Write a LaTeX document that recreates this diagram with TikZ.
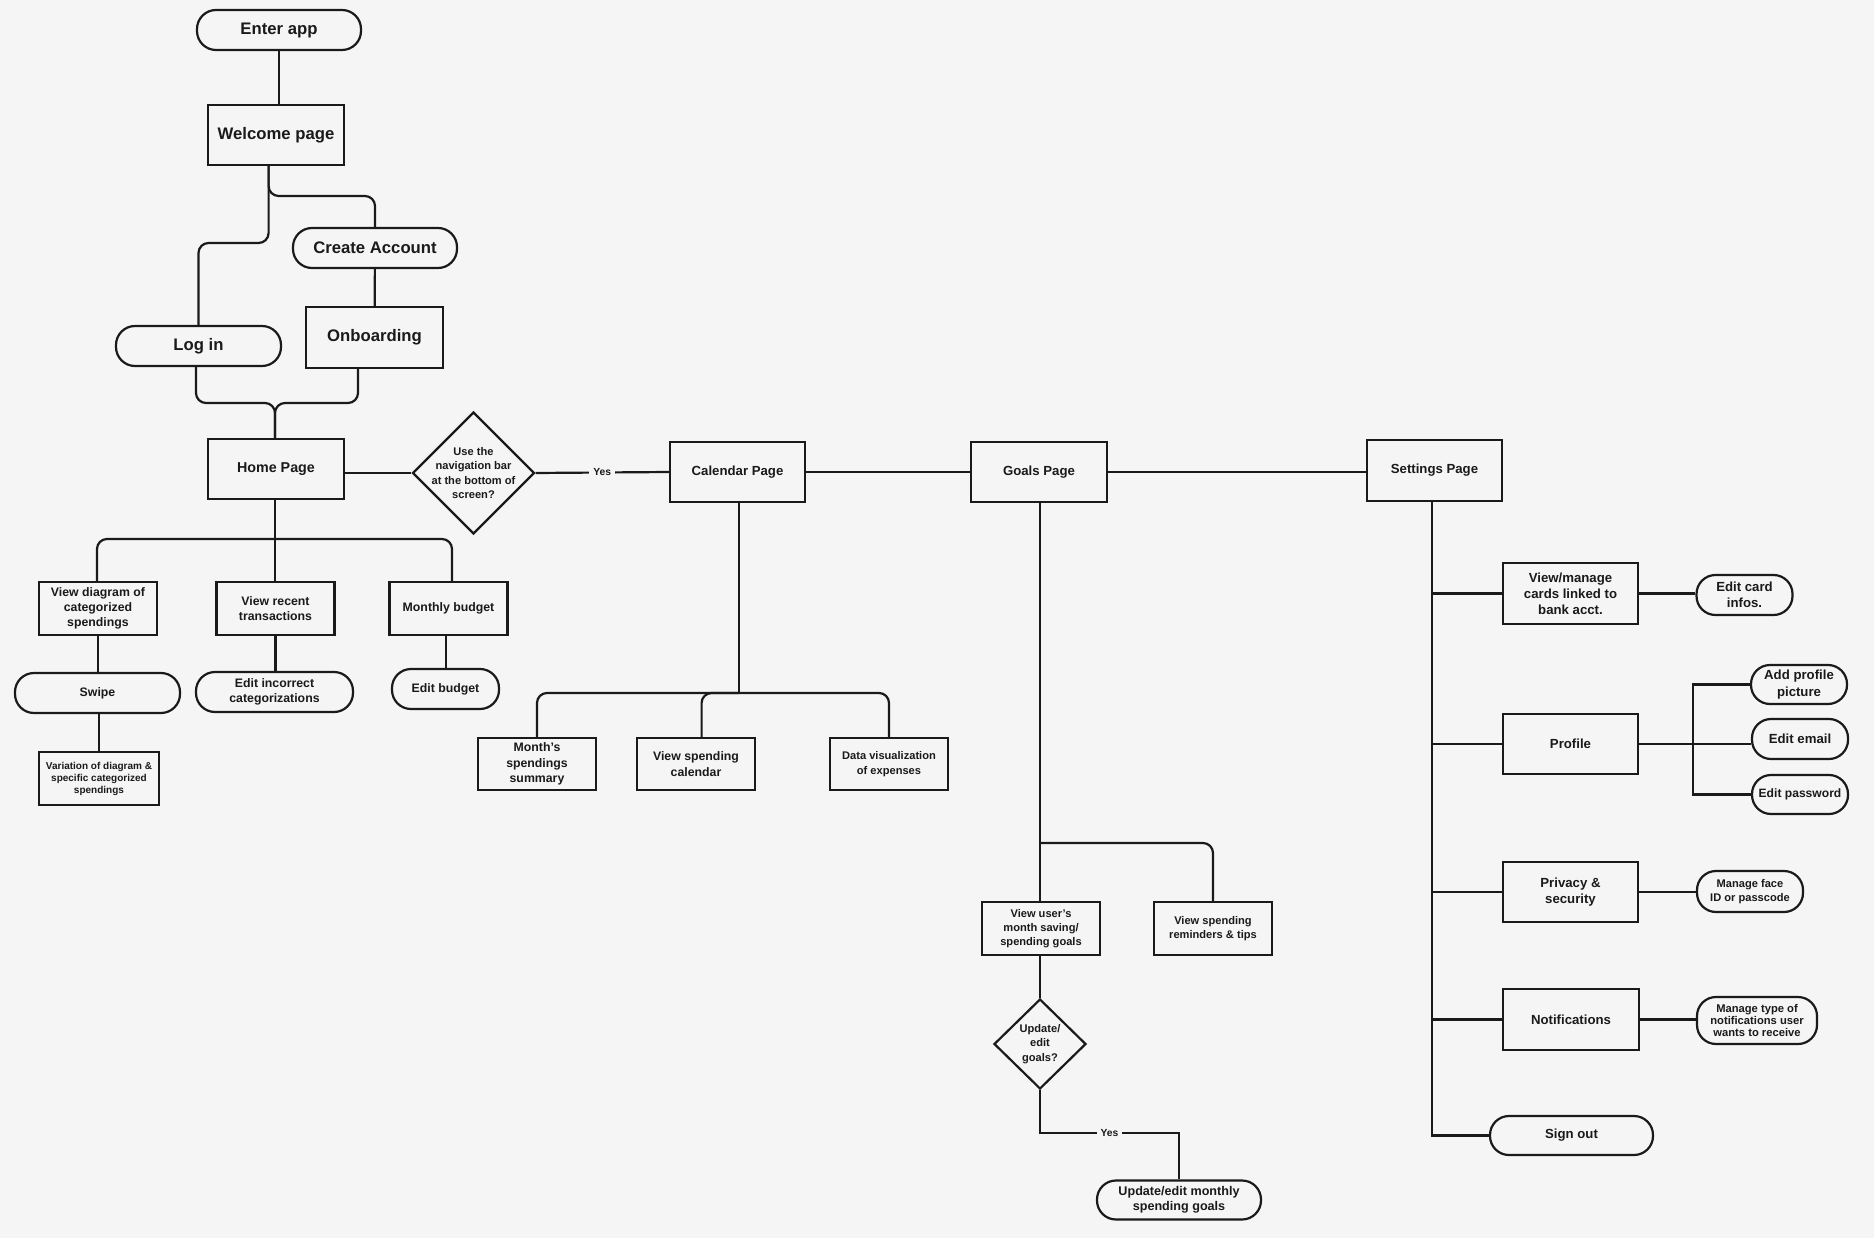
\documentclass[tikz,border=0pt]{standalone}
\usepackage{fontspec}
\setmainfont{Liberation Sans}
\usetikzlibrary{shapes.geometric}
\definecolor{paper}{HTML}{F5F5F5}
\definecolor{ink}{HTML}{1A1A1A}
\tikzset{
  pagebox/.style={draw, rectangle, minimum width=136pt, minimum height=60pt, inner sep=0pt, align=center},
  subbox/.style={pagebox, minimum width=118pt, minimum height=53pt},
  pill/.style={draw, rectangle, rounded corners=19pt, minimum height=40pt, inner sep=0pt, align=center},
  choice/.style={draw, diamond, inner sep=0pt},
  yeslabel/.style={fill=paper, inner sep=4pt, font=\bfseries\fontsize{10.3}{12}\selectfont},
  tbig/.style={font=\bfseries\fontsize{16.7}{20}\selectfont},
  thome/.style={font=\bfseries\fontsize{14.3}{17}\selectfont},
  tpage/.style={font=\bfseries\fontsize{13.2}{16.2}\selectfont},
  tsub/.style={font=\bfseries\fontsize{12.3}{15.3}\selectfont},
  tgoal/.style={font=\bfseries\fontsize{12.6}{15.3}\selectfont},
  tpass/.style={font=\bfseries\fontsize{12.1}{14}\selectfont},
  tnote/.style={font=\bfseries\fontsize{11.1}{14.3}\selectfont},
  tlist/.style={font=\bfseries\fontsize{11.2}{11.8}\selectfont},
  ttiny/.style={font=\bfseries\fontsize{10}{12}\selectfont}
}
\begin{document}
\begin{tikzpicture}[x=1pt,y=-1pt,color=ink,line width=2.2pt]
  \path[use as bounding box, fill=paper] (0,0) rectangle (1874,1238);
  % entry
  \node[pill, minimum width=164pt, tbig] (enter) at (279,30) {Enter app};
  \node[pagebox, tbig] (welcome) at (276,135) {Welcome page};
  \node[pill, minimum width=164pt, tbig] (create) at (375,248) {Create Account};
  \node[pagebox, minimum width=137pt, minimum height=61pt, tbig] (onboard) at (374.5,337.5) {Onboarding};
  \node[pill, minimum width=165pt, tbig] (login) at (198.5,346) {Log in};
  % main pages
  \node[pagebox, thome] (home) at (276,469) {Home Page};
  \node[choice, minimum width=122pt, minimum height=122pt,
        label={[tnote, align=center]center:Use the\\navigation bar\\at the bottom of\\screen?}] (navq) at (473.5,473) {};
  \node[pagebox, minimum width=135pt, tpage] (calendar) at (737.5,472) {Calendar Page};
  \node[pagebox, tpage] (goals) at (1039,472) {Goals Page};
  \node[pagebox, minimum width=135pt, minimum height=61pt, tpage] (settings) at (1434.5,470.5) {Settings Page};
  % home
  \node[subbox, tsub] (diagram) at (98,608.5) {View diagram of\\categorized\\spendings};
  \node[subbox, tsub] (recent) at (275.5,608.5) {View recent\\transactions};
  \node[subbox, tsub] (budget) at (448.5,608.5) {Monthly budget};
  \node[pill, minimum width=165pt, tsub] (swipe) at (97.5,693) {Swipe};
  \node[pill, minimum width=157pt, tsub] (editcat) at (274.5,692) {Edit incorrect\\categorizations};
  \node[pill, minimum width=107pt, tsub] (editbudget) at (445.5,689) {Edit budget};
  \node[subbox, minimum width=120pt, ttiny] (variation) at (99,778.5) {Variation of diagram \&\\specific categorized\\spendings};
  % calendar
  \node[subbox, minimum height=52pt, tsub] (summary) at (537,764) {Month’s\\spendings\\summary};
  \node[subbox, minimum height=52pt, tsub] (spendcal) at (696,764) {View spending\\calendar};
  \node[subbox, minimum height=52pt, tnote] (dataviz) at (889,764) {Data visualization\\of expenses};
  % goals
  \node[subbox, tnote] (usergoals) at (1041,928.5) {View user’s\\month saving/\\spending goals};
  \node[subbox, tnote] (reminders) at (1213,928.5) {View spending\\reminders \& tips};
  \node[choice, minimum width=92pt, minimum height=90pt,
        label={[tnote, align=center]center:Update/\\edit\\goals?}] (editq) at (1040,1044) {};
  \node[pill, minimum width=164pt, minimum height=39pt, tgoal] (updategoals) at (1179,1200) {Update/edit monthly\\spending goals};
  % settings
  \node[pagebox, minimum width=135pt, minimum height=61pt, tpage] (cards) at (1570.5,593.5) {View/manage\\cards linked to\\bank acct.};
  \node[pill, minimum width=96pt, tpage] (cardinfo) at (1744.5,595) {Edit card\\infos.};
  \node[pagebox, minimum width=135pt, tpage] (profile) at (1570.5,744) {Profile};
  \node[pill, minimum width=96pt, minimum height=39pt, tpage] (addpic) at (1799,684.5) {Add profile\\picture};
  \node[pill, minimum width=96pt, tpage] (email) at (1800,739) {Edit email};
  \node[pill, minimum width=96pt, minimum height=39pt, tpass] (password) at (1800,794.5) {Edit password};
  \node[pagebox, minimum width=135pt, tpage] (privacy) at (1570.5,892) {Privacy \&\\security};
  \node[pill, minimum width=106pt, minimum height=41pt, tnote] (faceid) at (1750,891.5) {Manage face\\ID or passcode};
  \node[pagebox, minimum height=61pt, tpage] (notif) at (1571,1019.5) {Notifications};
  \node[pill, minimum width=120pt, minimum height=47pt, tlist] (notiftype) at (1757,1020.5) {Manage type of\\notifications user\\wants to receive};
  \node[pill, minimum width=163pt, minimum height=39pt, tpage] (signout) at (1571.5,1135.5) {Sign out};
  % entry lines
  \coordinate (w1) at (268.6,243);
  \coordinate (w2) at (268.6,196);
  \coordinate (hjoin) at (275,403);
  \draw (enter.south) -- (enter.south |- welcome.north);
  \draw[rounded corners=10pt] (welcome.south -| w1) -- (w1) -| (login.north);
  \draw[rounded corners=10pt] (welcome.south -| w2) -- (w2) -| (create.north);
  \draw (create) -- (onboard);
  \draw[rounded corners=10pt] ([xshift=-2.5pt]login.south) |- (hjoin) -- (hjoin |- home.north);
  \draw[rounded corners=10pt] ([xshift=-16.5pt]onboard.south) |- (hjoin) -- (hjoin |- home.north);
  % page row
  \draw (navq.west -| home.east) -- (navq.west);
  \draw (navq.east) -- node[yeslabel] (yesnav) {Yes} (calendar.west);
  \draw (calendar.east) -- (goals.west);
  \draw (goals.east) -- (goals.east -| settings.west);
  % home lines
  \coordinate (hbar) at (275,539);
  \draw (hbar |- home.south) -- (hbar |- recent.north);
  \draw[rounded corners=10pt] ([xshift=-1pt]diagram.north) |- (hbar) -| ([xshift=3.5pt]budget.north);
  \draw (diagram.south) -- (diagram.south |- swipe.north);
  \draw ([xshift=1.5pt]swipe.south) -- ([xshift=1.5pt]swipe.south |- variation.north);
  \draw (recent.south) -- (recent.south |- editcat.north);
  \draw ([xshift=-2.5pt]budget.south) -- ([xshift=-2.5pt]budget.south |- editbudget.north);
  % calendar lines
  \coordinate (cbar) at (739,693);
  \draw (cbar |- calendar.south) -- (cbar);
  \draw[rounded corners=10pt] (summary.north) |- (cbar) -| (dataviz.north);
  \draw[rounded corners=10pt] (cbar) -| ([xshift=5.6pt]spendcal.north);
  % goals lines
  \coordinate (gbar) at (1040,843);
  \coordinate (ybend) at (1040,1133);
  \draw (gbar |- goals.south) -- (gbar |- usergoals.north);
  \draw[rounded corners=10pt] (gbar) -| (reminders.north);
  \draw (gbar |- usergoals.south) -- (gbar |- editq.north);
  \draw (editq.south) -- (ybend) -- node[yeslabel] (yesgoal) {Yes} (ybend -| updategoals.north)
        [rounded corners=10pt] -- (updategoals.north);
  % settings lines
  \draw ([xshift=-2.5pt]settings.south) |- (signout.west);
  \foreach \n in {cards,profile,privacy,notif}
    \draw ([xshift=-2.5pt]settings.south |- \n.west) -- (\n.west);
  \coordinate (pjoin) at (1693,741);
  \draw (cards.east) -- (cards.east -| cardinfo.west);
  \draw (profile.east) -- (profile.east -| email.west);
  \draw (addpic.west) -| (pjoin) |- (password.west);
  \draw (privacy.east) -- (privacy.east -| faceid.west);
  \draw (notif.east) -- (notif.east -| notiftype.west);
\end{tikzpicture}
\end{document}
